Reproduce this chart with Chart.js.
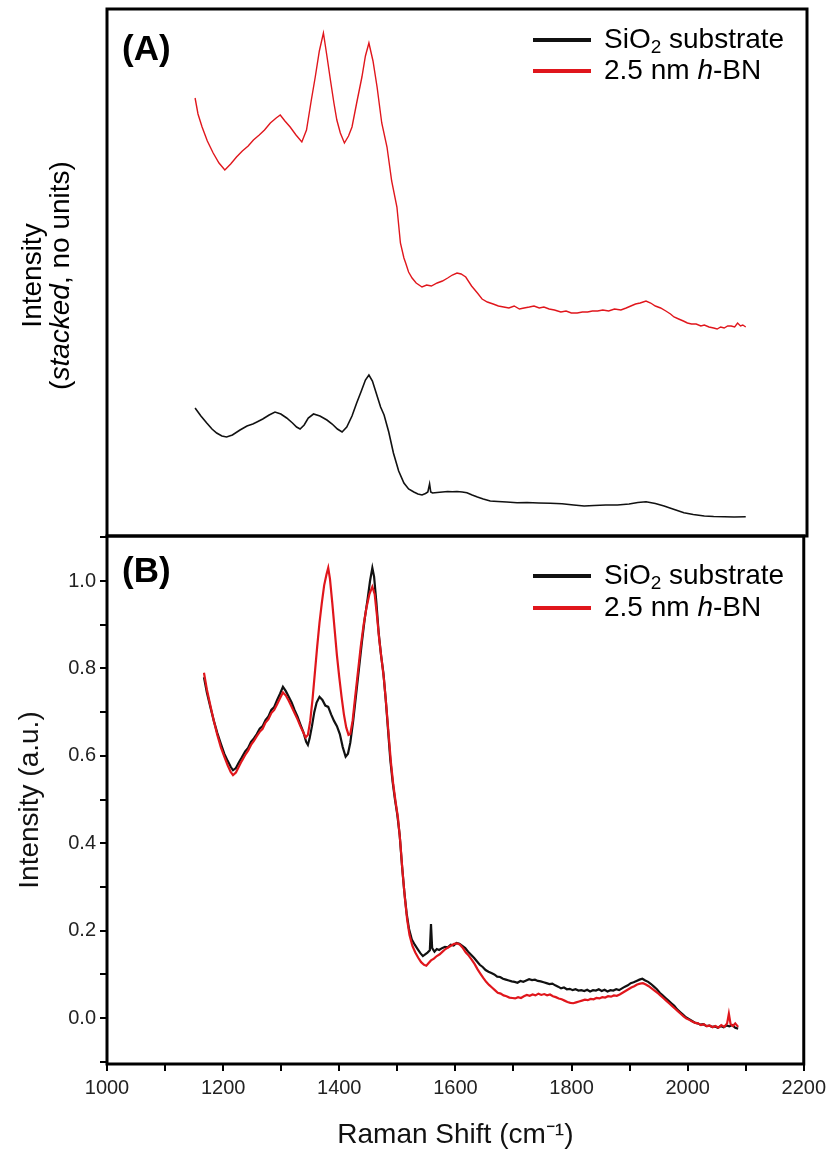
<!DOCTYPE html>
<html>
<head>
<meta charset="utf-8">
<script src="https://cdn.jsdelivr.net/npm/chart.js@4.4.1/dist/chart.umd.min.js"></script>
<style>
  html, body { margin: 0; padding: 0; background: #ffffff; }
  #wrap { position: relative; width: 831px; height: 1154px; background: #ffffff; }
  #cA { position: absolute; left: 0; top: 0; }
  #cB { position: absolute; left: 0; top: 520px; }
</style>
</head>
<body>
<div id="wrap">
  <canvas id="cA" width="831" height="545"></canvas>
  <canvas id="cB" width="831" height="634"></canvas>
</div>
<script>
// ---------------- DATA ----------------
const seriesNames = ['SiO2 substrate', '2.5 nm h-BN'];

// Panel A (stacked, arbitrary units)
const stackA_substrate_x = [1151,1161,1171,1180,1188,1197,1205,1215,1228,1240,1250,1257,1267,1278,1288,1298,1308,1318,1325,1331,1338,1345,1354,1365,1377,1386,1395,1403,1411,1420,1428,1436,1443,1449,1455,1462,1469,1475,1483,1491,1500,1509,1517,1526,1533,1540,1546,1550,1553,1555,1558,1566,1575,1584,1592,1600,1609,1617,1626,1635,1645,1657,1670,1685,1703,1720,1740,1760,1780,1800,1818,1835,1855,1875,1895,1910,1924,1940,1955,1970,1989,2005,2024,2040,2058,2075,2095];
const stackA_substrate_y = [1.28,1.20,1.13,1.07,1.03,1.00,0.99,1.01,1.06,1.10,1.12,1.14,1.17,1.21,1.24,1.22,1.18,1.13,1.09,1.07,1.11,1.18,1.22,1.20,1.16,1.12,1.07,1.04,1.09,1.20,1.33,1.45,1.56,1.61,1.55,1.42,1.29,1.21,1.04,0.83,0.65,0.53,0.47,0.44,0.42,0.41,0.425,0.44,0.52,0.44,0.43,0.435,0.44,0.445,0.442,0.445,0.44,0.433,0.41,0.39,0.37,0.35,0.345,0.34,0.333,0.335,0.33,0.327,0.322,0.31,0.30,0.305,0.31,0.31,0.32,0.335,0.343,0.325,0.30,0.27,0.233,0.215,0.20,0.195,0.193,0.19,0.193];

const stackA_hbn_x = [1151,1156,1163,1172,1182,1192,1202,1212,1222,1232,1242,1251,1261,1270,1280,1290,1297,1305,1314,1324,1334,1342,1350,1357,1364,1371,1377,1383,1389,1394,1400,1407,1414,1420,1428,1437,1443,1449,1456,1463,1471,1480,1488,1497,1503,1509,1512,1517,1523,1530,1540,1548,1556,1566,1575,1584,1592,1600,1607,1615,1625,1635,1643,1652,1662,1671,1680,1689,1698,1707,1715,1724,1732,1741,1749,1758,1767,1778,1787,1796,1806,1815,1824,1832,1841,1850,1860,1870,1881,1890,1898,1906,1914,1924,1932,1940,1949,1958,1966,1972,1980,1988,1995,2002,2010,2018,2024,2032,2040,2046,2052,2058,2064,2070,2076,2081,2086,2090,2095];
const stackA_hbn_y = [4.38,4.22,4.09,3.95,3.83,3.73,3.66,3.72,3.79,3.85,3.90,3.96,4.01,4.06,4.13,4.18,4.21,4.15,4.09,4.01,3.94,4.06,4.35,4.59,4.85,5.03,4.80,4.56,4.33,4.16,4.03,3.93,4.00,4.09,4.33,4.59,4.80,4.93,4.75,4.49,4.13,3.89,3.55,3.29,2.93,2.78,2.73,2.64,2.58,2.53,2.49,2.51,2.50,2.53,2.55,2.58,2.61,2.63,2.62,2.59,2.50,2.43,2.37,2.34,2.32,2.30,2.29,2.28,2.30,2.27,2.28,2.29,2.30,2.28,2.29,2.27,2.26,2.24,2.25,2.23,2.23,2.24,2.24,2.25,2.25,2.26,2.25,2.27,2.26,2.28,2.30,2.32,2.33,2.35,2.33,2.30,2.28,2.25,2.22,2.19,2.17,2.15,2.13,2.12,2.12,2.10,2.11,2.09,2.08,2.07,2.09,2.08,2.10,2.10,2.09,2.13,2.10,2.11,2.09];

// Panel B (normalised, a.u.)
const normB_substrate_x = [1167,1172,1178,1184,1190,1196,1202,1208,1213,1217,1222,1227,1232,1238,1243,1248,1253,1258,1263,1268,1273,1278,1283,1288,1293,1298,1303,1308,1313,1318,1323,1328,1333,1338,1343,1346,1349,1353,1357,1361,1366,1371,1376,1381,1386,1391,1396,1401,1406,1411,1415,1419,1424,1429,1434,1439,1444,1449,1453,1457,1460,1464,1468,1472,1476,1480,1484,1488,1492,1496,1500,1504,1508,1512,1516,1520,1525,1530,1535,1540,1544,1548,1552,1556,1558,1560,1564,1568,1572,1577,1582,1587,1592,1597,1602,1607,1612,1617,1622,1627,1632,1637,1642,1647,1652,1657,1662,1667,1672,1677,1682,1687,1692,1697,1702,1707,1712,1717,1722,1727,1732,1737,1742,1747,1752,1757,1762,1767,1772,1777,1782,1787,1792,1797,1802,1807,1812,1817,1822,1827,1832,1837,1842,1847,1852,1857,1862,1867,1872,1877,1882,1887,1892,1897,1902,1907,1912,1917,1922,1927,1932,1937,1942,1947,1952,1957,1962,1967,1972,1977,1982,1987,1992,1997,2002,2007,2012,2017,2022,2027,2032,2037,2042,2047,2052,2057,2062,2067,2072,2077,2082,2087];
const normB_substrate_y = [0.780,0.745,0.712,0.680,0.652,0.628,0.605,0.588,0.575,0.567,0.572,0.585,0.596,0.610,0.618,0.632,0.640,0.650,0.662,0.668,0.682,0.690,0.705,0.712,0.728,0.742,0.758,0.748,0.735,0.722,0.705,0.690,0.672,0.655,0.632,0.625,0.640,0.668,0.700,0.722,0.735,0.728,0.715,0.712,0.695,0.680,0.668,0.650,0.620,0.598,0.605,0.630,0.680,0.740,0.800,0.860,0.915,0.960,1.000,1.030,1.010,0.950,0.880,0.830,0.790,0.730,0.660,0.590,0.540,0.500,0.465,0.420,0.350,0.290,0.240,0.205,0.180,0.168,0.158,0.148,0.142,0.146,0.150,0.155,0.215,0.160,0.152,0.158,0.156,0.160,0.163,0.162,0.168,0.166,0.172,0.170,0.165,0.160,0.152,0.145,0.138,0.130,0.122,0.117,0.110,0.106,0.103,0.100,0.095,0.094,0.090,0.088,0.086,0.084,0.083,0.081,0.085,0.083,0.086,0.089,0.087,0.088,0.085,0.084,0.082,0.080,0.078,0.079,0.075,0.072,0.068,0.070,0.066,0.067,0.064,0.066,0.063,0.064,0.062,0.065,0.061,0.064,0.063,0.066,0.062,0.065,0.061,0.064,0.063,0.066,0.064,0.068,0.072,0.075,0.080,0.082,0.085,0.088,0.090,0.086,0.083,0.078,0.072,0.066,0.058,0.052,0.046,0.040,0.034,0.028,0.020,0.014,0.008,0.002,-0.002,-0.006,-0.010,-0.012,-0.015,-0.014,-0.018,-0.017,-0.020,-0.019,-0.022,-0.018,-0.021,-0.017,-0.019,-0.016,-0.022,-0.024];

const normB_hbn_x = [1167,1172,1178,1184,1190,1196,1202,1208,1213,1217,1222,1227,1232,1238,1243,1248,1253,1258,1263,1268,1273,1278,1283,1288,1293,1298,1303,1308,1313,1318,1323,1328,1333,1338,1342,1346,1350,1354,1358,1362,1366,1370,1374,1378,1381,1384,1388,1392,1396,1400,1404,1408,1412,1416,1419,1423,1427,1432,1437,1442,1447,1452,1457,1461,1465,1469,1473,1477,1481,1485,1489,1493,1497,1501,1505,1509,1513,1517,1521,1526,1531,1536,1541,1546,1550,1554,1558,1563,1568,1573,1578,1583,1588,1593,1598,1603,1608,1613,1618,1623,1628,1633,1638,1643,1648,1653,1658,1663,1668,1673,1678,1683,1688,1693,1698,1703,1708,1713,1718,1723,1728,1733,1738,1743,1748,1753,1758,1763,1768,1773,1778,1783,1788,1793,1798,1803,1808,1813,1818,1823,1828,1833,1838,1843,1848,1853,1858,1863,1868,1873,1878,1883,1888,1893,1898,1903,1908,1913,1918,1923,1928,1933,1938,1943,1948,1953,1958,1963,1968,1973,1978,1983,1988,1993,1998,2003,2008,2013,2018,2023,2028,2033,2038,2043,2048,2053,2058,2063,2068,2071,2074,2078,2082,2087];
const normB_hbn_y = [0.790,0.752,0.715,0.680,0.648,0.620,0.598,0.578,0.563,0.556,0.562,0.575,0.588,0.602,0.612,0.625,0.634,0.645,0.655,0.662,0.676,0.684,0.698,0.705,0.718,0.732,0.745,0.738,0.726,0.712,0.698,0.684,0.668,0.654,0.642,0.648,0.680,0.730,0.790,0.850,0.905,0.950,0.990,1.015,1.030,1.005,0.950,0.890,0.830,0.780,0.735,0.695,0.665,0.648,0.650,0.680,0.730,0.790,0.850,0.900,0.940,0.970,0.987,0.970,0.920,0.865,0.820,0.775,0.715,0.650,0.585,0.535,0.495,0.460,0.405,0.335,0.275,0.225,0.190,0.165,0.150,0.138,0.128,0.122,0.120,0.126,0.132,0.136,0.142,0.146,0.152,0.158,0.162,0.166,0.170,0.171,0.168,0.160,0.150,0.143,0.134,0.124,0.112,0.102,0.092,0.083,0.076,0.070,0.064,0.058,0.056,0.052,0.050,0.047,0.046,0.045,0.048,0.046,0.050,0.053,0.051,0.054,0.052,0.056,0.053,0.055,0.052,0.054,0.050,0.048,0.045,0.043,0.040,0.037,0.035,0.034,0.036,0.038,0.040,0.042,0.041,0.044,0.043,0.046,0.045,0.048,0.047,0.050,0.049,0.052,0.051,0.054,0.058,0.062,0.066,0.070,0.073,0.077,0.079,0.080,0.077,0.073,0.068,0.063,0.058,0.052,0.046,0.040,0.034,0.028,0.022,0.016,0.010,0.004,-0.001,-0.004,-0.008,-0.011,-0.012,-0.016,-0.014,-0.019,-0.017,-0.021,-0.018,-0.022,-0.016,-0.020,-0.012,0.010,-0.014,-0.018,-0.012,-0.020];

// Tick values / labels
const xTicks = [1000,1100,1200,1300,1400,1500,1600,1700,1800,1900,2000,2100,2200];
const xTickLabels = [1000,1200,1400,1600,1800,2000,2200];
const yTicksB = [-0.1,0.0,0.1,0.2,0.3,0.4,0.5,0.6,0.7,0.8,0.9,1.0,1.1];
const yTickLabelsB = [0.0,0.2,0.4,0.6,0.8,1.0];

// ---------------- HELPERS ----------------
const FONT = "'Liberation Sans', Arial, Helvetica, sans-serif";
const BLACK = '#111111';
const RED = '#e0161c';
function pts(xs, ys) { return xs.map((x, i) => ({ x: x, y: ys[i] })); }
function has(arr, v) { return arr.some(a => Math.abs(a - v) < 1e-6); }

function drawRich(ctx, parts, x, y, align) {
  let total = 0;
  parts.forEach(p => { ctx.font = p.font; p.w = ctx.measureText(p.t).width; total += p.w; });
  let cx = align === 'center' ? x - total / 2 : x;
  parts.forEach(p => {
    ctx.font = p.font;
    ctx.fillText(p.t, cx, y + (p.dy || 0));
    cx += p.w;
  });
}

function drawLegend(ctx, x0, y1, y2) {
  ctx.save();
  ctx.lineCap = 'butt';
  ctx.lineWidth = 4;
  ctx.strokeStyle = BLACK;
  ctx.beginPath(); ctx.moveTo(x0, y1); ctx.lineTo(x0 + 58, y1); ctx.stroke();
  ctx.strokeStyle = RED;
  ctx.beginPath(); ctx.moveTo(x0, y2); ctx.lineTo(x0 + 58, y2); ctx.stroke();
  ctx.fillStyle = '#000';
  ctx.textBaseline = 'middle';
  ctx.textAlign = 'left';
  const f = '28px ' + FONT;
  drawRich(ctx, [
    { t: 'SiO', font: f },
    { t: '2', font: '19px ' + FONT, dy: 8 },
    { t: ' substrate', font: f }
  ], x0 + 71, y1, 'left');
  drawRich(ctx, [
    { t: '2.5 nm ', font: f },
    { t: 'h', font: 'italic 28px ' + FONT },
    { t: '-BN', font: f }
  ], x0 + 71, y2, 'left');
  ctx.restore();
}

function frame(ctx, area) {
  ctx.save();
  ctx.strokeStyle = '#000';
  ctx.lineWidth = 3;
  ctx.strokeRect(area.left, area.top, area.right - area.left, area.bottom - area.top);
  ctx.restore();
}

// ---------------- PANEL A ----------------
const panelAPlugin = {
  id: 'panelA',
  afterDraw(chart) {
    const ctx = chart.ctx;
    const a = chart.chartArea;
    frame(ctx, a);
    ctx.save();
    ctx.fillStyle = '#000';
    ctx.textBaseline = 'middle';
    ctx.textAlign = 'left';
    ctx.font = 'bold 35px ' + FONT;
    ctx.fillText('(A)', 122, 50);
    drawLegend(ctx, 533, 40, 71);
    const cy = (a.top + a.bottom) / 2 + 3;
    ctx.save();
    ctx.translate(33, cy);
    ctx.rotate(-Math.PI / 2);
    drawRich(ctx, [{ t: 'Intensity', font: '28px ' + FONT }], 0, 0, 'center');
    ctx.restore();
    ctx.save();
    ctx.translate(61, cy);
    ctx.rotate(-Math.PI / 2);
    drawRich(ctx, [
      { t: '(', font: '28px ' + FONT },
      { t: 'stacked', font: 'italic 28px ' + FONT },
      { t: ', no units)', font: '28px ' + FONT }
    ], 0, 0, 'center');
    ctx.restore();
    ctx.restore();
  }
};

new Chart(document.getElementById('cA'), {
  type: 'line',
  data: {
    datasets: [
      { label: seriesNames[1], data: pts(stackA_hbn_x, stackA_hbn_y), borderColor: RED, borderWidth: 1.4, pointRadius: 0, tension: 0, order: 0 },
      { label: seriesNames[0], data: pts(stackA_substrate_x, stackA_substrate_y), borderColor: BLACK, borderWidth: 1.6, pointRadius: 0, tension: 0, order: 1 }
    ]
  },
  options: {
    responsive: false,
    animation: false,
    devicePixelRatio: 1,
    layout: { padding: { left: 107, top: 9, right: 24, bottom: 9 } },
    plugins: { legend: { display: false }, tooltip: { enabled: false } },
    scales: {
      x: { type: 'linear', min: 1000, max: 2200, display: false },
      y: { type: 'linear', min: 0, max: 5.27, display: false }
    }
  },
  plugins: [panelAPlugin]
});

// ---------------- PANEL B ----------------
const panelBPlugin = {
  id: 'panelB',
  afterDraw(chart) {
    const ctx = chart.ctx;
    frame(ctx, chart.chartArea);
    ctx.save();
    ctx.fillStyle = '#000';
    ctx.textBaseline = 'middle';
    ctx.textAlign = 'left';
    ctx.font = 'bold 35px ' + FONT;
    ctx.fillText('(B)', 122, 572 - 520);
    drawLegend(ctx, 533, 576 - 520, 608 - 520);
    ctx.restore();
  }
};

new Chart(document.getElementById('cB'), {
  type: 'line',
  data: {
    datasets: [
      { label: seriesNames[1], data: pts(normB_hbn_x, normB_hbn_y), borderColor: RED, borderWidth: 2.2, pointRadius: 0, tension: 0, order: 0 },
      { label: seriesNames[0], data: pts(normB_substrate_x, normB_substrate_y), borderColor: BLACK, borderWidth: 2.2, pointRadius: 0, tension: 0, order: 1 }
    ]
  },
  options: {
    responsive: false,
    animation: false,
    devicePixelRatio: 1,
    layout: { padding: { left: 0, top: 16, right: 24, bottom: 0 } },
    plugins: { legend: { display: false }, tooltip: { enabled: false } },
    scales: {
      x: {
        type: 'linear', min: 1000, max: 2200,
        afterBuildTicks(scale) { scale.ticks = xTicks.map(v => ({ value: v })); },
        afterFit(scale) { scale.height = 90; },
        ticks: {
          autoSkip: false, maxRotation: 0, padding: 5, color: '#222',
          font: { family: FONT, size: 20 },
          callback: (v) => has(xTickLabels, v) ? String(v) : ''
        },
        grid: { drawOnChartArea: false, drawTicks: true, tickLength: 7, color: '#000', lineWidth: 2 },
        border: { display: false },
        title: { display: true, text: 'Raman Shift (cm⁻¹)', color: '#111', font: { family: FONT, size: 28 }, padding: { top: 0, bottom: 2 } }
      },
      y: {
        type: 'linear', min: -0.105, max: 1.103,
        afterBuildTicks(scale) { scale.ticks = yTicksB.map(v => ({ value: v })); },
        afterFit(scale) { scale.width = 107; },
        ticks: {
          autoSkip: false, padding: 4, color: '#222',
          font: { family: FONT, size: 20 },
          callback: (v) => has(yTickLabelsB, v) ? v.toFixed(1) : ''
        },
        grid: { drawOnChartArea: false, drawTicks: true, tickLength: 7, color: '#000', lineWidth: 2 },
        border: { display: false },
        title: { display: true, text: 'Intensity (a.u.)', color: '#111', font: { family: FONT, size: 28 }, padding: { top: 13, bottom: 0 } }
      }
    }
  },
  plugins: [panelBPlugin]
});
</script>
</body>
</html>
